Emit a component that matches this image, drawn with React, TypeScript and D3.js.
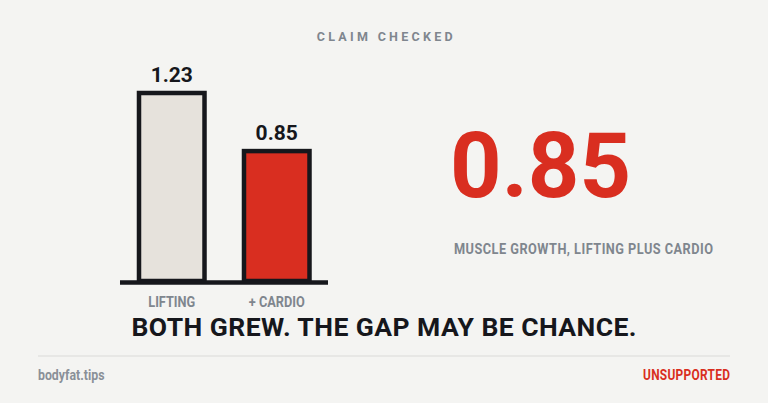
import React from "react";
import * as d3 from "d3";

const categories = ["LIFTING", "+ CARDIO"];
const values = [1.23, 0.85];
const valueLabels = ["1.23", "0.85"];
const barFills = ["#e6e2dc", "#d92e20"];
const kicker = "CLAIM CHECKED";
const bigNumber = "0.85";
const bigCaption = "MUSCLE GROWTH, LIFTING PLUS CARDIO";
const headline = "BOTH GREW. THE GAP MAY BE CHANCE.";
const source = "bodyfat.tips";
const verdict = "UNSUPPORTED";

const W = 768;
const H = 403;
const BG = "#f4f4f2";
const INK = "#16171c";
const GRAY = "#7f868e";
const RED = "#d92e20";
const FONT = "Roboto, 'Noto Sans', sans-serif";
const CX = 0.85; // condensed factor

function Cond({ x, y, size, anchor = "start", fill, children, len }: any) {
  const extra: any = len ? { textLength: len / CX, lengthAdjust: "spacing" } : {};
  return (
    <text
      transform={`translate(${x},${y}) scale(${CX},1)`}
      fontFamily={FONT}
      fontWeight={700}
      fontSize={size}
      textAnchor={anchor}
      fill={fill}
      {...extra}
    >
      {children}
    </text>
  );
}

export default function App() {
  const x = d3
    .scaleBand<string>()
    .domain(categories)
    .range([86.5, 362])
    .paddingInner(0.376)
    .paddingOuter(0.5);
  const y = d3.scaleLinear().domain([0, d3.max(values)!]).range([281, 93]);
  const bw = x.bandwidth();

  return (
    <svg
      width={W}
      height={H}
      viewBox={`0 0 ${W} ${H}`}
      style={{ position: "absolute", left: 0, top: 0, display: "block" }}
    >
      <rect x={0} y={0} width={W} height={H} fill={BG} />

      <text
        x={384.7}
        y={41}
        textAnchor="middle"
        fontFamily={FONT}
        fontWeight={700}
        fontSize={12.5}
        fill={GRAY}
        textLength={136}
        lengthAdjust="spacing"
      >
        {kicker}
      </text>

      {categories.map((c, i) => (
        <g key={c}>
          <rect
            x={x(c)!}
            y={y(values[i])}
            width={bw}
            height={y(0) - y(values[i])}
            fill={barFills[i]}
            stroke={INK}
            strokeWidth={4.5}
          />
          <text
            x={x(c)! + bw / 2}
            y={y(values[i]) - 11.3}
            textAnchor="middle"
            fontFamily={FONT}
            fontWeight={700}
            fontSize={21}
            fill={INK}
          >
            {valueLabels[i]}
          </text>
          <Cond x={x(c)! + bw / 2} y={307.3} size={15} anchor="middle" fill={GRAY}>
            {c}
          </Cond>
        </g>
      ))}
      <line
        x1={x(categories[0])! - 19}
        x2={x(categories[categories.length - 1])! + bw + 18.5}
        y1={282.5}
        y2={282.5}
        stroke={INK}
        strokeWidth={4.5}
      />

      <text
        x={450}
        y={197}
        fontFamily={FONT}
        fontWeight={700}
        fontSize={90}
        fill={RED}
      >
        {bigNumber}
      </text>
      <Cond x={454} y={254} size={15} fill={GRAY} len={259}>
        {bigCaption}
      </Cond>

      <text
        x={384}
        y={335.5}
        textAnchor="middle"
        fontFamily={FONT}
        fontWeight={700}
        fontSize={26.5}
        fill={INK}
        textLength={505}
        lengthAdjust="spacing"
      >
        {headline}
      </text>

      <line x1={38} x2={730} y1={356} y2={356} stroke="#d9d9d7" strokeWidth={1.2} />
      <Cond x={38} y={380} size={14.5} fill="#8a9098">
        {source}
      </Cond>
      <Cond x={730} y={380} size={14} anchor="end" fill={RED} len={87}>
        {verdict}
      </Cond>
    </svg>
  );
}
